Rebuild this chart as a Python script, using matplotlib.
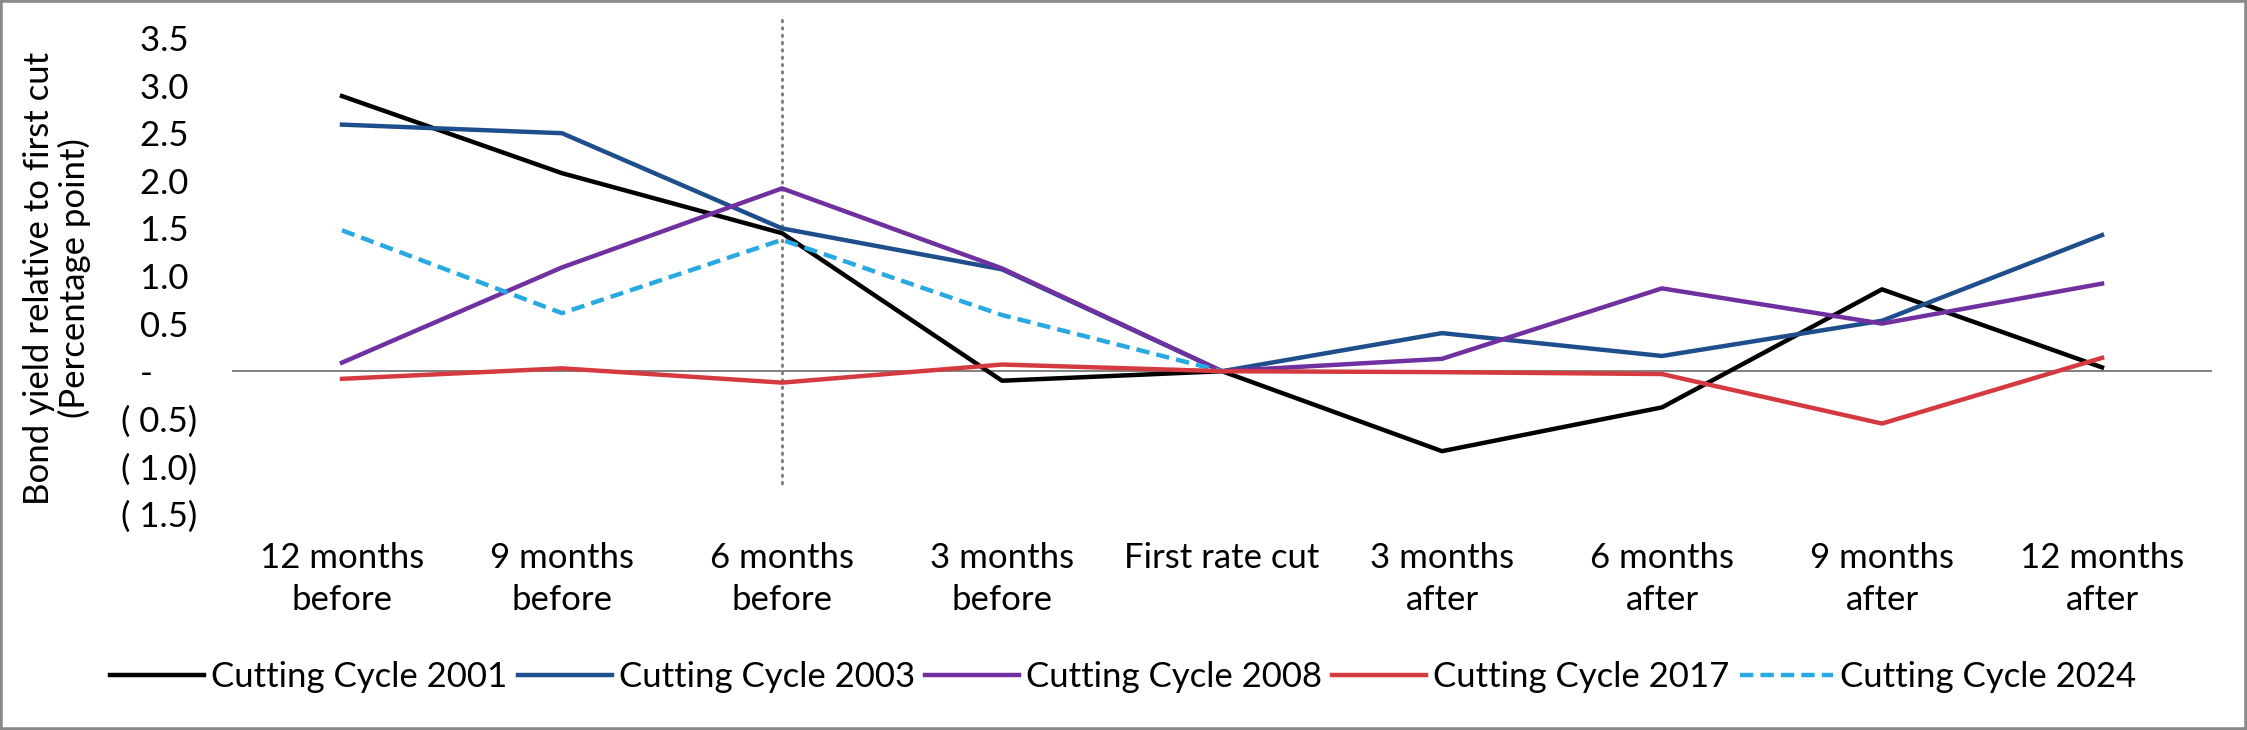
import matplotlib
matplotlib.use("Agg")
import matplotlib.pyplot as plt
from matplotlib.patches import Rectangle

plt.rcParams['font.family'] = ['Lato', 'DejaVu Sans']

categories = ["12 months\nbefore", "9 months\nbefore", "6 months\nbefore", "3 months\nbefore",
              "First rate cut", "3 months\nafter", "6 months\nafter", "9 months\nafter", "12 months\nafter"]

cycle_2001 = [2.89, 2.08, 1.45, -0.10, 0.0, -0.84, -0.38, 0.86, 0.04]
cycle_2003 = [2.59, 2.50, 1.50, 1.07, 0.0, 0.40, 0.16, 0.53, 1.43]
cycle_2008 = [0.09, 1.09, 1.92, 1.08, 0.0, 0.13, 0.87, 0.50, 0.92]
cycle_2017 = [-0.08, 0.03, -0.12, 0.07, 0.0, -0.01, -0.03, -0.55, 0.14]
cycle_2024 = [1.48, 0.61, 1.38, 0.59, 0.0]

series_names = ["Cutting Cycle 2001", "Cutting Cycle 2003", "Cutting Cycle 2008",
                "Cutting Cycle 2017", "Cutting Cycle 2024"]

yticks = [3.5, 3.0, 2.5, 2.0, 1.5, 1.0, 0.5, 0.0, -0.5, -1.0, -1.5]
ytick_labels = ["3.5 ", "3.0 ", "2.5 ", "2.0 ", "1.5 ", "1.0 ", "0.5 ", "-     ",
                "( 0.5)", "( 1.0)", "( 1.5)"]

marker_index = 2  # vertical dotted marker at "6 months before"

W, H = 2247, 730
fig = plt.figure(figsize=(W / 100, H / 100), dpi=100)
ax = fig.add_axes([232 / W, 1 - 514 / H, (2212 - 232) / W, (514 - 38) / H])

x = list(range(len(categories)))
fs = 25
lw = 3.2

ax.axhline(0, color='#808080', lw=1.4, zorder=1)
ax.plot([marker_index, marker_index], [3.69, -1.2], color='#808080', lw=2.2,
        linestyle=(0, (0.4, 2.0)), dash_capstyle='round', clip_on=False, zorder=1)

ax.plot(x, cycle_2001, color='#000000', lw=lw, label=series_names[0], zorder=3)
ax.plot(x, cycle_2003, color='#1F4E8C', lw=lw, label=series_names[1], zorder=3)
ax.plot(x, cycle_2008, color='#7030A0', lw=lw, label=series_names[2], zorder=3)
ax.plot(x, cycle_2017, color='#D43A3F', lw=lw, label=series_names[3], zorder=4)
ax.plot(x[:len(cycle_2024)], cycle_2024, color='#29A9E1', lw=lw, linestyle=(0, (3.0, 1.6)),
        label=series_names[4], zorder=3)

ax.set_xlim(-0.5, len(categories) - 0.5)
ax.set_ylim(-1.5, 3.5)
ax.set_xticks(x)
ax.set_xticklabels(categories, fontsize=fs, linespacing=1.4)
ax.set_yticks(yticks)
ax.set_yticklabels(ytick_labels, fontsize=fs)
ax.tick_params(axis='x', length=0, pad=20)
ax.tick_params(axis='y', length=0, pad=25)
for s in ax.spines.values():
    s.set_visible(False)

fig.text(57 / W, 1 - 278 / H, "Bond yield relative to first cut\n(Percentage point)",
         rotation=90, ha='center', va='center', multialignment='center', fontsize=fs,
         linespacing=1.1)

leg = fig.legend(loc='center', bbox_to_anchor=(0.5, 1 - 677 / H), ncol=5, frameon=False,
                 fontsize=fs, handlelength=2.7, handletextpad=0.2, columnspacing=0.3,
                 borderaxespad=0)

fig.patches.append(Rectangle((0, 0), 1, 1, transform=fig.transFigure, fill=False,
                             edgecolor='#8a8a8a', lw=4, zorder=10))

fig.savefig("out.png", dpi=100, facecolor='white')
